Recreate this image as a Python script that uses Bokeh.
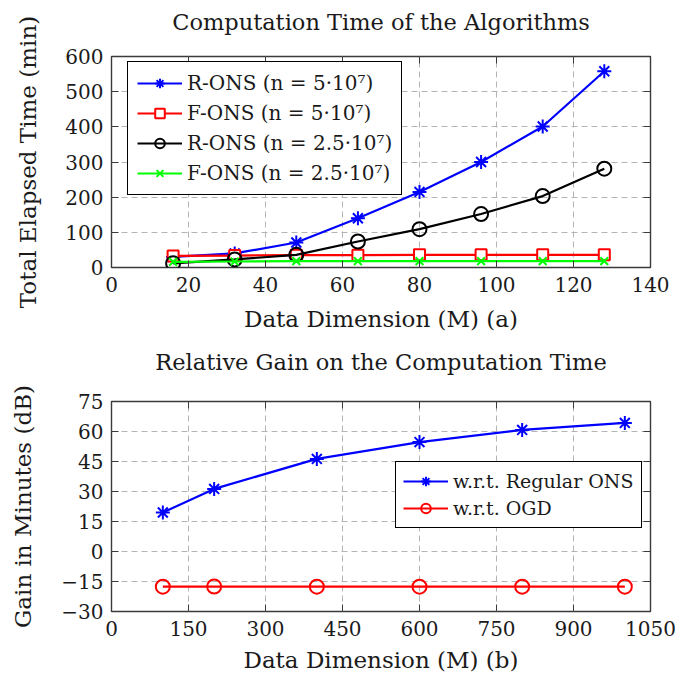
from bokeh.plotting import figure
from bokeh.layouts import column
from bokeh.models import (Legend, LegendItem, LinearAxis, FixedTicker,
                          CustomJSTickFormatter, Range1d)
from bokeh.embed import file_html
from bokeh.resources import INLINE

# ---------------- data ----------------
dims_a = [16, 32, 48, 64, 80, 96, 112, 128]
r_ons_5e7 = [30, 40, 71, 140, 215, 300, 401, 558]
f_ons_5e7 = [33, 34, 35, 35, 36, 36, 36, 36]
r_ons_25e7 = [12, 23, 36, 74, 109, 152, 203, 281]
f_ons_25e7 = [16, 17, 18, 18, 18, 18, 18, 18]
labels_a = ["R-ONS (n = 5·10⁷)", "F-ONS (n = 5·10⁷)",
            "R-ONS (n = 2.5·10⁷)", "F-ONS (n = 2.5·10⁷)"]

dims_b = [100, 200, 400, 600, 800, 1000]
gain_regular_ons = [19.5, 31.3, 46.3, 54.7, 60.8, 64.3]
gain_ogd = [-17.6, -17.5, -17.6, -17.6, -17.6, -17.6]
labels_b = ["w.r.t. Regular ONS", "w.r.t. OGD"]

xticks_a = list(range(0, 141, 20))
yticks_a = list(range(0, 601, 100))
xticks_b = list(range(0, 1051, 150))
yticks_b = list(range(-30, 76, 15))

FONT = "DejaVu Serif"
TXT = "#1a1a1a"
FRAME = "#3a3a3a"


def blank():
    return CustomJSTickFormatter(code="return ''")


def style(p, xt, yt, spacer):
    p.title.text_font = FONT
    p.title.text_font_size = "22.5px"
    p.title.text_font_style = "normal"
    p.title.text_color = TXT
    p.title.align = "center"
    p.title.standoff = 10
    p.outline_line_color = FRAME
    p.outline_line_width = 1.4
    p.outline_line_alpha = 1
    for ax, ticks in ((p.xaxis[0], xt), (p.yaxis[0], yt)):
        ax.ticker = FixedTicker(ticks=ticks)
        ax.axis_line_color = None
        ax.major_tick_in = 7
        ax.major_tick_out = 0
        ax.major_tick_line_color = FRAME
        ax.minor_tick_line_color = None
        ax.major_label_text_font = FONT
        ax.major_label_text_font_size = "20px"
        ax.major_label_text_color = TXT
        ax.axis_label_text_font = FONT
        ax.axis_label_text_font_size = "23px"
        ax.axis_label_text_font_style = "normal"
        ax.axis_label_text_color = TXT
    p.xaxis.major_label_standoff = 9
    p.yaxis.major_label_standoff = 8
    p.xgrid.ticker = FixedTicker(ticks=xt)
    p.ygrid.ticker = FixedTicker(ticks=yt)
    p.grid.grid_line_color = "#b4b4b4"
    p.grid.grid_line_dash = "6 4"
    p.grid.grid_line_width = 1
    # inward ticks on the top and right edges of the frame
    for loc, ticks in (("above", xt), ("right", yt)):
        ax = LinearAxis(ticker=FixedTicker(ticks=ticks), formatter=blank(),
                        major_tick_in=7, major_tick_out=0,
                        major_tick_line_color=FRAME,
                        minor_tick_line_color=None, axis_line_color=None,
                        major_label_standoff=0)
        p.add_layout(ax, loc)
    # invisible spacer between the frame and the title
    sp = LinearAxis(ticker=FixedTicker(ticks=xt), formatter=blank(),
                    major_tick_in=0, major_tick_out=spacer,
                    major_tick_line_color=None, minor_tick_line_color=None,
                    axis_line_color=None, major_label_standoff=0)
    p.add_layout(sp, "above")


# ---------------- figure (a) ----------------
p1 = figure(frame_width=539, frame_height=211,
            x_range=Range1d(0, 140), y_range=Range1d(0, 600),
            output_backend="svg", toolbar_location=None,
            min_border_left=106, min_border_right=40, min_border_top=56, min_border_bottom=73,
            title="Computation Time of the Algorithms",
            x_axis_label="Data Dimension (M) (a)", y_axis_label="Total Elapsed Time (min)")
style(p1, xticks_a, yticks_a, 17)
p1.xaxis.axis_label_standoff = 11
p1.yaxis.axis_label_standoff = 21

series_a = [
    (r_ons_5e7, "#0000ff", "asterisk", 14, "white"),
    (f_ons_5e7, "#ff0000", "square", 11, "white"),
    (r_ons_25e7, "#000000", "circle", 14, None),
    (f_ons_25e7, "#00ff00", "x", 11, None),
]
items_a = []
for (ys, col, mk, sz, fill), lab in zip(series_a, labels_a):
    lr = p1.line(dims_a, ys, line_color=col, line_width=2.2)
    sr = p1.scatter(dims_a, ys, marker=mk, size=sz, line_color=col, line_width=2,
                    fill_color=fill if fill else col, fill_alpha=1 if fill else 0)
    items_a.append(LegendItem(label=lab, renderers=[lr, sr]))

leg_a = Legend(items=items_a, location=(16, 72), margin=0,
               label_text_font=FONT, label_text_font_size="20px", label_text_color=TXT,
               glyph_width=45, glyph_height=24, label_height=24, spacing=6, padding=9,
               border_line_color="black", border_line_width=1.3, border_line_alpha=1,
               background_fill_color="white", background_fill_alpha=1)
p1.add_layout(leg_a)

# ---------------- figure (b) ----------------
p2 = figure(frame_width=539, frame_height=210,
            x_range=Range1d(0, 1050), y_range=Range1d(-30, 75),
            output_backend="svg", toolbar_location=None,
            min_border_left=111, min_border_right=35, min_border_top=61, min_border_bottom=70,
            title="Relative Gain on the Computation Time",
            x_axis_label="Data Dimension (M) (b)", y_axis_label="Gain in Minutes (dB)")
style(p2, xticks_b, yticks_b, 22)
p2.xaxis.axis_label_standoff = 8
p2.yaxis.axis_label_standoff = 22
p2.yaxis[0].major_label_overrides = {t: str(t).replace("-", "−") for t in yticks_b}

series_b = [
    (gain_regular_ons, "#0000ff", "asterisk", 14),
    (gain_ogd, "#ff0000", "circle", 14),
]
items_b = []
for (ys, col, mk, sz), lab in zip(series_b, labels_b):
    lr = p2.line(dims_b, ys, line_color=col, line_width=2.2)
    sr = p2.scatter(dims_b, ys, marker=mk, size=sz, line_color=col, line_width=2,
                    fill_color="white", fill_alpha=0)
    items_b.append(LegendItem(label=lab, renderers=[lr, sr]))

leg_b = Legend(items=items_b, location=(284, 83), margin=0,
               label_text_font=FONT, label_text_font_size="19px", label_text_color=TXT,
               glyph_width=45, glyph_height=24, label_height=24, spacing=3, padding=7,
               border_line_color="black", border_line_width=1.3, border_line_alpha=1,
               background_fill_color="white", background_fill_alpha=1)
p2.add_layout(leg_b)

layout = column(p1, p2)
open("out.html", "w").write(file_html(layout, INLINE))
